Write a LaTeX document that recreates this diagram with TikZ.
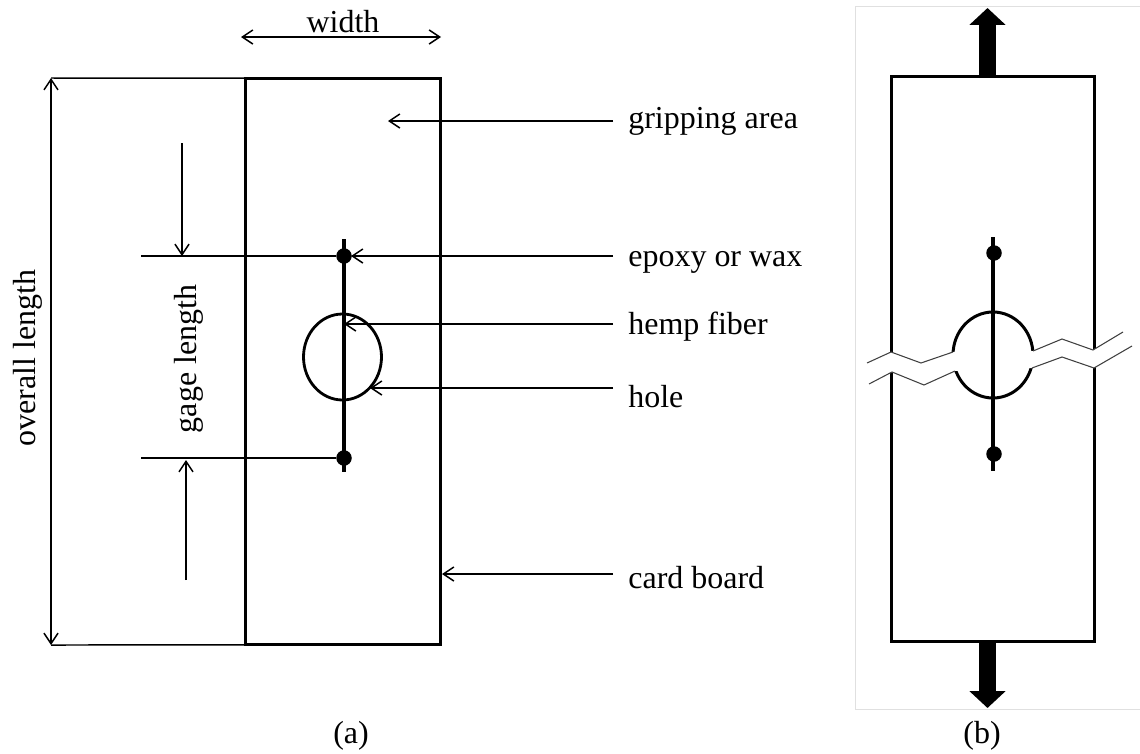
\documentclass[tikz,border=0pt]{standalone}
\usepackage{fontspec}
\setmainfont{Liberation Serif}
\usetikzlibrary{arrows.meta}

\tikzset{
    board/.style={draw, line width=1.7pt, minimum width=3.92cm, minimum height=11.34cm, inner sep=0pt, outer sep=0pt},
    boardb/.style={draw, line width=1.7pt, minimum width=4.08cm, minimum height=11.32cm, inner sep=0pt, outer sep=0pt},
    dot/.style={circle, fill, inner sep=0pt, minimum size=0.31cm},
    label/.style={font=\fontsize{18.2}{20}\selectfont, inner sep=0pt},
    leader/.style={line width=0.85pt},
    fiber/.style={line width=1.9pt},
    crack/.style={line width=0.6pt, black!75},
    load/.style={-{Triangle[length=9.6pt, width=20pt]}, line width=9.6pt},
}

\begin{document}
\begin{tikzpicture}[x=0.02cm, y=-0.02cm, >={Straight Barb[length=6pt, width=8pt]}]
    \useasboundingbox (0,0) rectangle (1140,754);

    % Panel (a): card and specimen
    \node [board] (card) at (343,361.5) {};
    \coordinate (fibertop) at (344,239);
    \coordinate (fiberbot) at (344,472);
    \draw [line width=1.6pt] (342.5,357) ellipse [x radius=39, y radius=43];
    \draw [fiber] (fibertop) -- (fiberbot);
    \node [dot] (dottop) at (344,256) {};
    \node [dot] (dotbot) at (344,458) {};

    % Dimensions
    \node [label, anchor=base] (width) at (343,32) {width};
    \coordinate (widthl) at (241,37);
    \coordinate (widthr) at (441,37);
    \path [<->, leader] (widthl) edge (widthr);

    \coordinate (overt) at (51,78);
    \coordinate (overb) at (51,645);
    \path [<->, leader] (overt) edge (overb);
    \path [leader] (overt) edge (card.north west);
    \path [leader] (overb) edge (card.south west);
    \node [label, rotate=90, anchor=base] (overall) at (35,358) {overall length};

    \coordinate (gaget) at (141,256);
    \coordinate (gageb) at (141,458);
    \path [leader] (gaget) edge (dottop);
    \path [leader] (gageb) edge (dotbot);
    \node [label, rotate=90, anchor=base] (gage) at (196,359) {gage length};
    \coordinate (downs) at (182,143);
    \coordinate (downe) at (182,256);
    \coordinate (ups) at (186,580);
    \coordinate (upe) at (186,460);
    \path [->, leader] (downs) edge (downe);
    \path [->, leader] (ups) edge (upe);

    % Labels on the right
    \node [label, anchor=base west] (grip) at (628,128) {gripping area};
    \node [label, anchor=base west] (epoxy) at (628,266) {epoxy or wax};
    \node [label, anchor=base west] (hemp) at (628,334) {hemp fiber};
    \node [label, anchor=base west] (holel) at (628,407) {hole};
    \node [label, anchor=base west] (cardl) at (628,588) {card board};

    \coordinate (gripe) at (388,121);
    \coordinate (gripl) at (613,121);
    \coordinate (epoxye) at (351,256);
    \coordinate (epoxyl) at (613,256);
    \coordinate (hempe) at (344,324);
    \coordinate (hempl) at (613,324);
    \coordinate (holee) at (370,388);
    \coordinate (holell) at (613,388);
    \coordinate (carde) at (442,574);
    \coordinate (cardll) at (613,574);
    \path [->, leader] (gripl) edge (gripe);
    \path [->, leader] (epoxyl) edge (epoxye);
    \path [->, leader] (hempl) edge (hempe);
    \path [->, leader] (holell) edge (holee);
    \path [->, leader] (cardll) edge (carde);

    \node [label, anchor=base] (capa) at (351,743) {(a)};

    % Panel (b): frame of the pasted picture
    \draw [black!12, line width=0.4pt] (1140,6) -- (855,6) -- (855,709) -- (1140,709);

    % Loads
    \coordinate (loadts) at (987.5,78);
    \coordinate (loadte) at (987.5,8);
    \coordinate (loadbs) at (987.5,640);
    \coordinate (loadbe) at (987.5,708);
    \draw [load] (loadts) -- (loadte);
    \draw [load] (loadbs) -- (loadbe);

    \node [boardb] (cardb) at (993,359) {};
    \draw [line width=1.7pt] (993,355) ellipse [x radius=40, y radius=43];

    % Cut across the card
    \coordinate (ua) at (867,363);
    \coordinate (ub) at (891,352);
    \coordinate (uc) at (921,363);
    \coordinate (ud) at (953,352);
    \coordinate (ue) at (1033,351);
    \coordinate (uf) at (1062,339);
    \coordinate (ug) at (1093,350);
    \coordinate (uh) at (1123,332);
    \coordinate (la) at (869,384);
    \coordinate (lb) at (892,372);
    \coordinate (lc) at (924,385);
    \coordinate (ld) at (955,371);
    \coordinate (le) at (1032,368);
    \coordinate (lf) at (1062,357);
    \coordinate (lg) at (1094,368);
    \coordinate (lh) at (1132,346);
    \fill [white] (ua) -- (ub) -- (uc) -- (ud) -- (ue) -- (uf) -- (ug) -- (uh)
        -- (lh) -- (lg) -- (lf) -- (le) -- (ld) -- (lc) -- (lb) -- (la) -- cycle;
    \draw [crack] (ua) -- (ub) -- (uc) -- (ud);
    \draw [crack] (la) -- (lb) -- (lc) -- (ld);
    \draw [crack] (ue) -- (uf) -- (ug) -- (uh);
    \draw [crack] (le) -- (lf) -- (lg) -- (lh);

    \coordinate (fibertopb) at (993,237);
    \coordinate (fiberbotb) at (993,471);
    \draw [fiber] (fibertopb) -- (fiberbotb);
    \node [dot] (dottopb) at (994,253) {};
    \node [dot] (dotbotb) at (994,454) {};

    \node [label, anchor=base] (capb) at (982,743) {(b)};
\end{tikzpicture}
\end{document}
